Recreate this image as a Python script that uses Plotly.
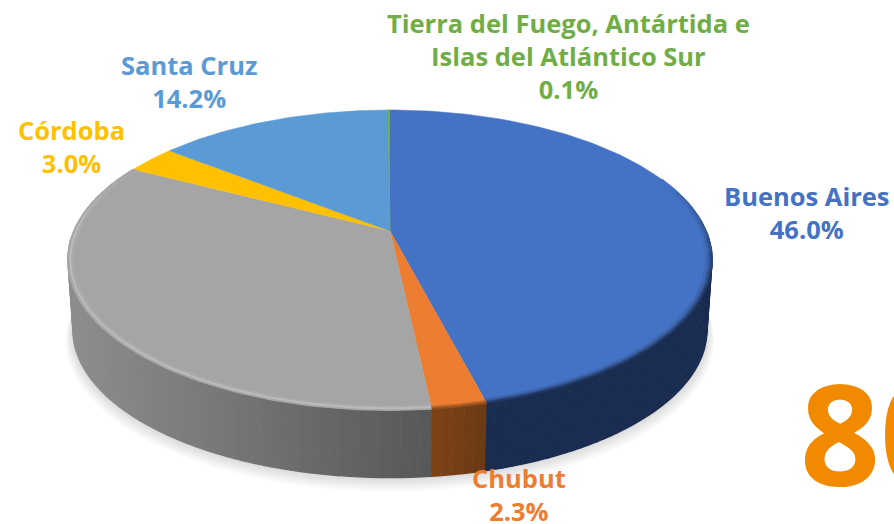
import numpy as np
import plotly.graph_objects as go

# ---- data ----
categories = ["Buenos Aires", "Chubut", "", "Córdoba", "Santa Cruz", "Tierra del Fuego, Antártida e<br>Islas del Atlántico Sur"]
values = [46.0, 2.3, 34.4, 3.0, 14.2, 0.1]
colors = ["#4472C4", "#ED7D31", "#A5A5A5", "#FFC000", "#5B9BD5", "#70AD47"]
wall_left = ["#1A2C50", "#7F4317", "#8E8E8E", "#8A6A00", "#2F5F8F", "#3A5A25"]
wall_right = ["#1A2C50", "#6A3A15", "#555555", "#8A6A00", "#2F5F8F", "#3A5A25"]
label_x = [807, 519, None, 71, 189, 568]
label_y = [212, 494, None, 146, 81, 56]

# ---- projection of the tilted disc into the page's pixel axes ----
CX, CY, RX, RY, K = 390.0, 231.0, 316.0, 144.4, 0.193
DEPTH, BOTTOM_SCALE = 71.0, 0.985


def project(theta, scale=1.0, dy=0.0):
    u, v = np.sin(theta) * scale, np.cos(theta) * scale
    s = 1 / (1 + K * v)
    return CX + RX * u * s, CY - RY * v * s + dy


def hex_rgb(c):
    return np.array([int(c[i:i + 2], 16) for i in (1, 3, 5)], float)


def mix(a, b, t):
    r = hex_rgb(a) * (1 - t) + hex_rgb(b) * t
    return "#%02x%02x%02x" % tuple(int(c) for c in r)


def poly(x, y, color, opacity=1.0, line=1.5):
    fig.add_trace(go.Scatter(x=list(x), y=list(y), mode="lines", fill="toself", fillcolor=color,
                             opacity=opacity, line=dict(color=color, width=line), hoverinfo="skip",
                             showlegend=False))


def stroke(x, y, color, width):
    fig.add_trace(go.Scatter(x=list(x), y=list(y), mode="lines", line=dict(color=color, width=width),
                             hoverinfo="skip", showlegend=False))


def bevel(i, scale, color, width, start=0.45, span=0.6):
    """Rim stroke for slice i that fades in towards the front of the disc."""
    t = np.linspace(edges[i], edges[i + 1], max(3, int((edges[i + 1] - edges[i]) / np.radians(6)) + 1))
    for a, b in zip(t[:-1], t[1:]):
        mid = (a + b) / 2
        fade = np.clip((start - np.cos(mid)) / span, 0, 1)
        if fade <= 0:
            continue
        seg = np.linspace(a, b, 5)
        x, y = project(seg, scale)
        stroke(x, y, mix(colors[i], color, fade), width)


fig = go.Figure()
edges = np.cumsum([0] + values) / sum(values) * 2 * np.pi

# soft shadow under the disc
ring = np.linspace(0, 2 * np.pi, 240)
for i in range(7):
    x, y = project(ring, BOTTOM_SCALE + 0.022 - i * 0.003, DEPTH + 9 - i * 1.3)
    poly(x, y, "#000000", 0.018, 0)

# side wall: strips painted back to front
strips = []
for i in range(len(values)):
    n = max(2, int((edges[i + 1] - edges[i]) / np.radians(1.5)))
    t = np.linspace(edges[i], edges[i + 1], n + 1)
    for a, b in zip(t[:-1], t[1:]):
        strips.append((np.cos((a + b) / 2), a, b, i))
strips.sort(key=lambda r: -r[0])
for _, a, b, i in strips:
    if np.cos((a + b) / 2) > 0.25:
        continue
    xa, ya = project(a)
    xb, yb = project(b)
    xc, yc = project(b, BOTTOM_SCALE, DEPTH)
    xd, yd = project(a, BOTTOM_SCALE, DEPTH)
    tt = np.clip(((xa + xb) / 2 - 70) / 380, 0, 1) if i == 2 else np.clip(((xa + xb) / 2 - 432) / 55, 0, 1)
    poly([xa, xb, xc, xd], [ya, yb, yc, yd], mix(wall_left[i], wall_right[i], tt), 1.0, 1.2)

# top face
for i in range(len(values)):
    t = np.linspace(edges[i], edges[i + 1], max(2, int((edges[i + 1] - edges[i]) / np.radians(1)) + 1))
    x, y = project(t)
    poly(np.r_[CX, x], np.r_[CY, y], colors[i], 1.0, 1.0 if values[i] < 1 else 0.5)

# rounded bevel on the rim
for scale, col, w in [(0.985, "#ABABAB", 2), (0.993, "#BBBBBB", 2.2), (1.001, "#A8A8A8", 1.5)]:
    bevel(2, scale, col, w, 0.5, 0.5)
for scale, col, w in [(0.982, "#4069B4", 2), (0.989, "#375C9E", 2), (0.995, "#2A4677", 2), (1.0, "#1F3560", 1.8)]:
    bevel(0, scale, col, w, 0.35, 0.7)
for scale, col, w in [(0.992, "#B8652A", 2), (1.0, "#8E4F1F", 2)]:
    bevel(1, scale, col, w)

# labels
for name, val, col, lx, ly in zip(categories, values, colors, label_x, label_y):
    if not name:
        continue
    txt = f"<b>{name}<br>{val:.1f}%</b>"
    fig.add_annotation(x=lx, y=ly, text=txt, showarrow=False, xanchor="center", yanchor="middle",
                       font=dict(family="Open Sans, sans-serif", size=25.5, color=col), align="center")
fig.add_annotation(x=798, y=431, text="<b>80</b>", showarrow=False, xanchor="left", yanchor="middle",
                   font=dict(family="Open Sans, sans-serif", size=140, color="#F28A00"))

fig.update_layout(width=894, height=524, margin=dict(l=0, r=0, t=0, b=0), paper_bgcolor="white",
                  plot_bgcolor="white", showlegend=False,
                  xaxis=dict(range=[0, 894], visible=False, fixedrange=True),
                  yaxis=dict(range=[524, 0], visible=False, fixedrange=True))
fig.write_html("out.html", config=dict(displayModeBar=False),
               post_script="document.body.style.margin='0';document.body.style.overflow='hidden';")
